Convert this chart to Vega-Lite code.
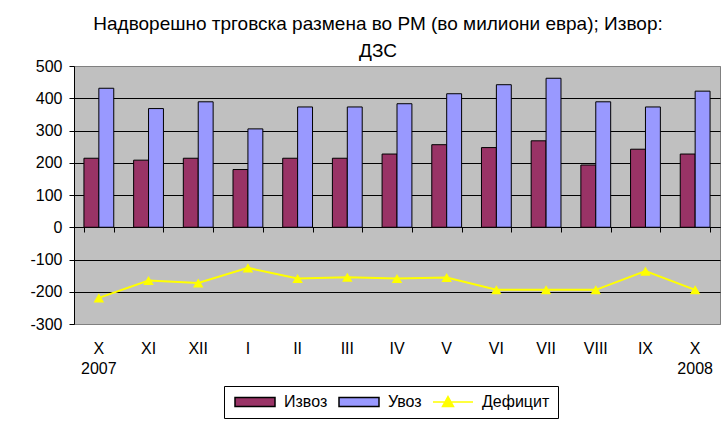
{
  "$schema": "https://vega.github.io/schema/vega-lite/v6.json",
  "width": 646,
  "height": 258,
  "autosize": {"type": "none"},
  "padding": {"left": 74, "top": 66, "right": 1, "bottom": 97},
  "background": "white",
  "config": {
    "font": "Liberation Sans",
    "view": {"fill": "#C0C0C0", "stroke": "#808080", "strokeWidth": 1},
    "legend": {
      "orient": "none",
      "legendX": 150,
      "legendY": 320,
      "direction": "horizontal",
      "strokeColor": "black",
      "fillColor": "white",
      "padding": 8,
      "symbolSize": 100,
      "symbolOpacity": 1,
      "symbolStrokeWidth": 1.5,
      "labelOffset": 36,
      "columnPadding": 8,
      "labelFontSize": 16,
      "labelColor": "black",
      "labelFont": "Liberation Sans"
    }
  },
  "title": {
    "text": ["Надворешно трговска размена во РМ (во милиони евра); Извор:", "ДЗС"],
    "fontSize": 19,
    "fontWeight": "normal",
    "font": "Liberation Sans",
    "color": "black",
    "lineHeight": 27,
    "anchor": "middle",
    "dx": -19,
    "offset": -3
  },
  "data": {
    "values": [
      {"m": "X 2007", "series": "Извоз", "value": 214},
      {"m": "XI", "series": "Извоз", "value": 208},
      {"m": "XII", "series": "Извоз", "value": 214},
      {"m": "I", "series": "Извоз", "value": 179},
      {"m": "II", "series": "Извоз", "value": 214},
      {"m": "III", "series": "Извоз", "value": 214},
      {"m": "IV", "series": "Извоз", "value": 227},
      {"m": "V", "series": "Извоз", "value": 256},
      {"m": "VI", "series": "Извоз", "value": 247},
      {"m": "VII", "series": "Извоз", "value": 268},
      {"m": "VIII", "series": "Извоз", "value": 193},
      {"m": "IX", "series": "Извоз", "value": 242},
      {"m": "X 2008", "series": "Извоз", "value": 227},
      {"m": "X 2007", "series": "Увоз", "value": 431},
      {"m": "XI", "series": "Увоз", "value": 368},
      {"m": "XII", "series": "Увоз", "value": 389},
      {"m": "I", "series": "Увоз", "value": 305},
      {"m": "II", "series": "Увоз", "value": 373},
      {"m": "III", "series": "Увоз", "value": 373},
      {"m": "IV", "series": "Увоз", "value": 383},
      {"m": "V", "series": "Увоз", "value": 414},
      {"m": "VI", "series": "Увоз", "value": 442},
      {"m": "VII", "series": "Увоз", "value": 462},
      {"m": "VIII", "series": "Увоз", "value": 389},
      {"m": "IX", "series": "Увоз", "value": 373},
      {"m": "X 2008", "series": "Увоз", "value": 422},
      {"m": "X 2007", "series": "Дефицит", "value": -219},
      {"m": "XI", "series": "Дефицит", "value": -165},
      {"m": "XII", "series": "Дефицит", "value": -173},
      {"m": "I", "series": "Дефицит", "value": -126},
      {"m": "II", "series": "Дефицит", "value": -159},
      {"m": "III", "series": "Дефицит", "value": -155},
      {"m": "IV", "series": "Дефицит", "value": -159},
      {"m": "V", "series": "Дефицит", "value": -156},
      {"m": "VI", "series": "Дефицит", "value": -194},
      {"m": "VII", "series": "Дефицит", "value": -194},
      {"m": "VIII", "series": "Дефицит", "value": -194},
      {"m": "IX", "series": "Дефицит", "value": -136},
      {"m": "X 2008", "series": "Дефицит", "value": -194}
    ]
  },
  "encoding": {
    "x": {
      "field": "m",
      "type": "nominal",
      "sort": null,
      "scale": {"paddingInner": 0.4, "paddingOuter": 0.2}
    },
    "y": {
      "field": "value",
      "type": "quantitative",
      "scale": {"domain": [-300, 500], "nice": false, "zero": false},
      "axis": {
        "title": null,
        "values": [-300, -200, -100, 0, 100, 200, 300, 400, 500],
        "labelExpr": "datum.value < 0 ? '-' + abs(datum.value) : '' + datum.value",
        "labelFontSize": 16,
        "labelColor": "black",
        "labelPadding": 7,
        "tickSize": 5,
        "tickColor": "black",
        "domainColor": "black",
        "grid": true,
        "gridColor": {"condition": {"test": "datum.value === 500 || datum.value === -300", "value": "#808080"}, "value": "black"},
        "gridOpacity": 1
      }
    }
  },
  "layer": [
    {
      "transform": [{"filter": "datum.series !== 'Дефицит'"}],
      "mark": {"type": "bar", "stroke": "black", "strokeWidth": 1},
      "encoding": {
        "x": {
          "field": "m",
          "type": "nominal",
          "sort": null,
          "axis": {
            "orient": "bottom",
            "title": null,
            "labelExpr": "split(datum.label, ' ')",
            "labelAngle": 0,
            "labelFontSize": 16,
            "labelColor": "black",
            "labelLineHeight": 20,
            "labelPadding": 16,
            "ticks": false,
            "domain": false,
            "grid": false
          }
        },
        "xOffset": {
          "field": "series",
          "type": "nominal",
          "sort": ["Извоз", "Увоз"],
          "scale": {"domain": ["Извоз", "Увоз"], "paddingInner": 0, "paddingOuter": 0}
        },
        "color": {
          "field": "series",
          "type": "nominal",
          "scale": {
            "domain": ["Извоз", "Увоз"],
            "range": ["#993366", "#9999FF"]
          },
          "legend": null
        }
      }
    },
    {
      "transform": [{"filter": "datum.series === 'Дефицит'"}],
      "mark": {
        "type": "line",
        "color": "#FFFF00",
        "strokeWidth": 2,
        "point": {"shape": "triangle-up", "filled": true, "color": "#FFFF00", "size": 110, "opacity": 1}
      },
      "encoding": {
        "x": {
          "field": "m",
          "type": "nominal",
          "sort": null,
          "axis": {
            "orient": "bottom",
            "offset": -97,
            "title": null,
            "labels": false,
            "ticks": true,
            "tickBand": "extent",
            "tickSize": 5,
            "tickColor": "black",
            "domain": true,
            "domainColor": "black",
            "grid": false
          }
        }
      }
    },
    {
      "transform": [{"filter": "datum.series === 'Дефицит'"}],
      "mark": {"type": "point", "filled": true, "opacity": 0},
      "encoding": {
        "x": {"field": "m", "type": "nominal", "sort": null, "axis": null},
        "fill": {
          "field": "series",
          "type": "nominal",
          "title": null,
          "scale": {"domain": ["Извоз", "Увоз", "Дефицит"], "range": ["#993366", "#9999FF", "#FFFF00"]}
        },
        "stroke": {
          "field": "series",
          "type": "nominal",
          "title": null,
          "scale": {"domain": ["Извоз", "Увоз", "Дефицит"], "range": ["#000000", "#000000", "#FFFF00"]}
        },
        "shape": {
          "field": "series",
          "type": "nominal",
          "title": null,
          "scale": {"domain": ["Извоз", "Увоз", "Дефицит"], "range": ["M-1,-0.9H7V0.9H-1Z", "M-1,-0.9H7V0.9H-1Z", "M-1,0H7M2,-1.1L3.1,0.9H0.9Z"]}
        }
      }
    }
  ],
  "resolve": {"axis": {"x": "independent"}}
}
